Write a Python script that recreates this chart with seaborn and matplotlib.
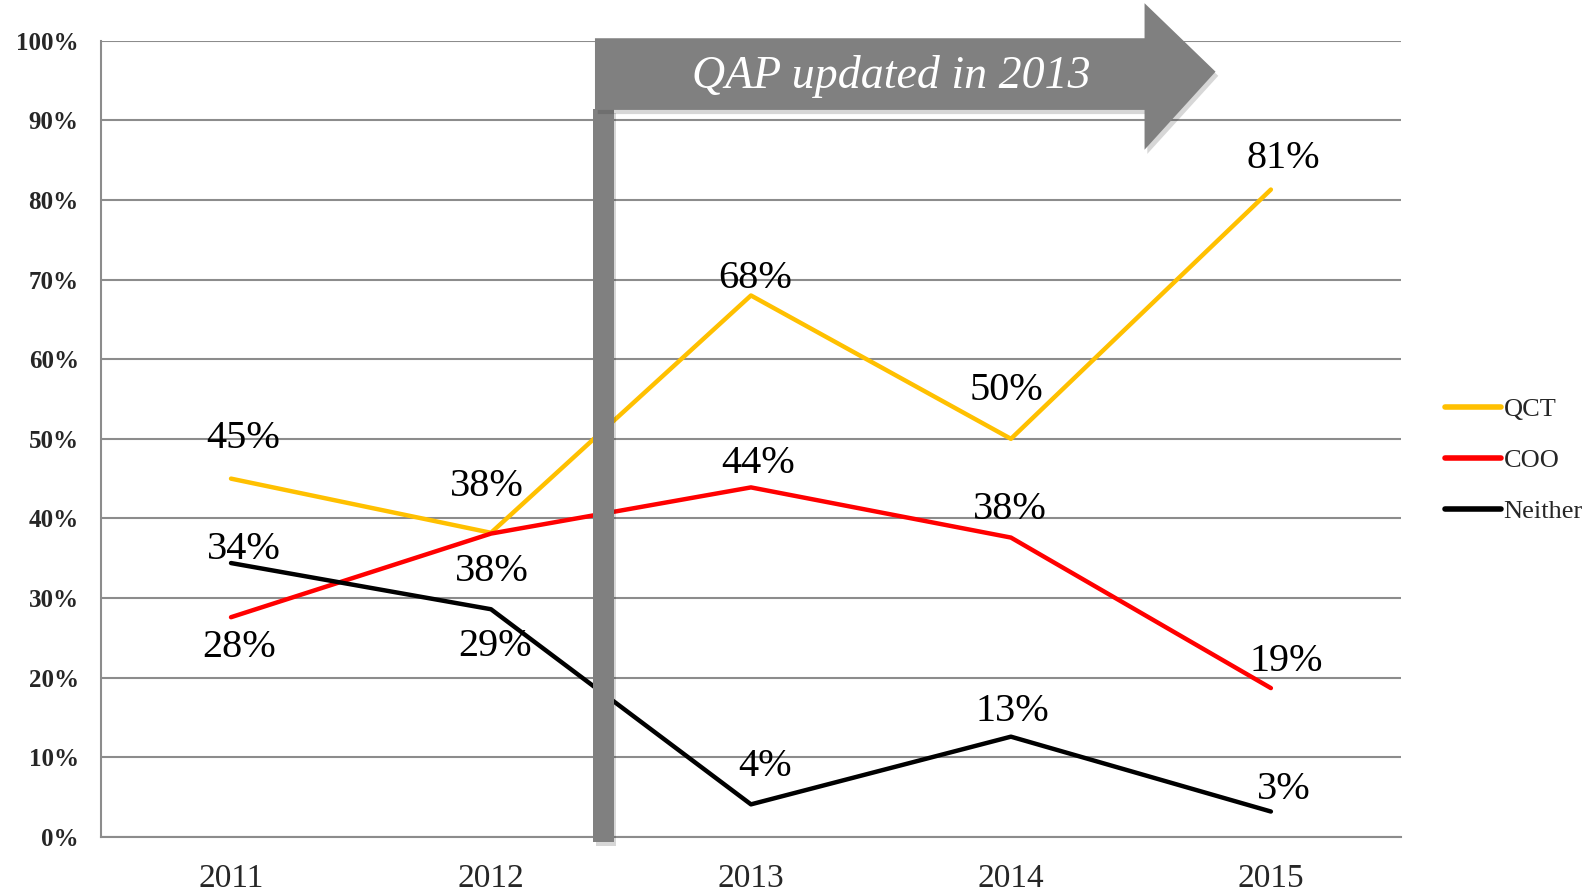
import numpy as np
import pandas as pd
import matplotlib
matplotlib.use("Agg")
import matplotlib.pyplot as plt
from matplotlib.patches import Polygon, Rectangle
import matplotlib.patheffects as pe
import seaborn as sns

# data (percent)
years = ["2011", "2012", "2013", "2014", "2015"]
qct = [45.0, 38.2, 68.0, 50.0, 81.3]
coo = [27.6, 38.1, 43.9, 37.6, 18.7]
neither = [34.4, 28.6, 4.1, 12.6, 3.2]
series_names = ["QCT", "COO", "Neither"]

df = pd.DataFrame({"year": years * 3,
                   "value": qct + coo + neither,
                   "series": np.repeat(series_names, len(years))})

colors = {"QCT": "#FFC000", "COO": "#FF0000", "Neither": "#000000"}
# label offsets (points) from each point, as placed in the original
label_offsets = {
    "QCT": [(9, 29), (-3, 33), (3, 12), (-3, 35), (9, 22)],
    "COO": [(6, -22), (1, -27), (5, 17), (-1, 20), (11, 19)],
    "Neither": [(9, 10), (3, -27), (10, 27), (1, 18), (9, 16)],
}

sns.set_style("white")
plt.rcParams["font.family"] = ["Liberation Serif", "DejaVu Serif"]

fig = plt.figure(figsize=(15.91, 8.93), dpi=100)
ax = fig.add_axes([0.0635, 0.0627, 0.817, 0.8918])

sns.lineplot(data=df, x="year", y="value", hue="series", palette=colors,
             linewidth=3.2, ax=ax, sort=False)

ax.set_xlim(-0.5, 4.5)
ax.set_ylim(0, 100)
ax.set_yticks(np.arange(0, 101, 10))
ax.set_yticklabels([f"{v}%" for v in range(0, 101, 10)], fontsize=18,
                   fontweight="bold")
ax.tick_params(axis="x", labelsize=24, pad=19, length=0)
ax.tick_params(axis="y", pad=16, length=0)
ax.yaxis.grid(True, color="#8c8c8c", linewidth=1.5)
ax.set_axisbelow(True)
for s in ["top", "right"]:
    ax.spines[s].set_visible(False)
for s in ["left", "bottom"]:
    ax.spines[s].set_color("#8c8c8c")
    ax.spines[s].set_linewidth(1.5)
ax.set_xlabel("")
ax.set_ylabel("")

# value labels
for name, vals in zip(series_names, [qct, coo, neither]):
    for i, v in enumerate(vals):
        dx, dy = label_offsets[name][i]
        ax.annotate(f"{v:.0f}%", (i, v), xytext=(dx, dy), textcoords="offset points",
                    ha="center", va="center", fontsize=29, color="black")

# vertical marker + arrow banner for the QAP update
shadow = [pe.SimplePatchShadow(offset=(2, -3), alpha=0.18), pe.Normal()]
bar = Rectangle((1.394, -0.6), 0.078, 92.0, facecolor="#808080", edgecolor="none",
                clip_on=False, zorder=5, path_effects=shadow)
ax.add_patch(bar)
arrow = Polygon([(1.40, 100.3), (3.514, 100.3), (3.514, 104.7), (3.787, 96.1),
                 (3.514, 86.3), (3.514, 91.3), (1.40, 91.3)],
                closed=True, facecolor="#808080", edgecolor="none",
                clip_on=False, zorder=6, path_effects=shadow)
ax.add_patch(arrow)
ax.text(2.54, 95.5, "QAP updated in 2013", color="white", fontsize=33,
        style="italic", ha="center", va="center", zorder=7)

leg = ax.legend(loc="center left", bbox_to_anchor=(1.016, 0.473), frameon=False,
                fontsize=19, handlelength=2.1, handletextpad=0.1, labelspacing=1.05)
for line in leg.get_lines():
    line.set_linewidth(4)
    line.set_solid_capstyle("round")

fig.savefig("out.png", dpi=100)
